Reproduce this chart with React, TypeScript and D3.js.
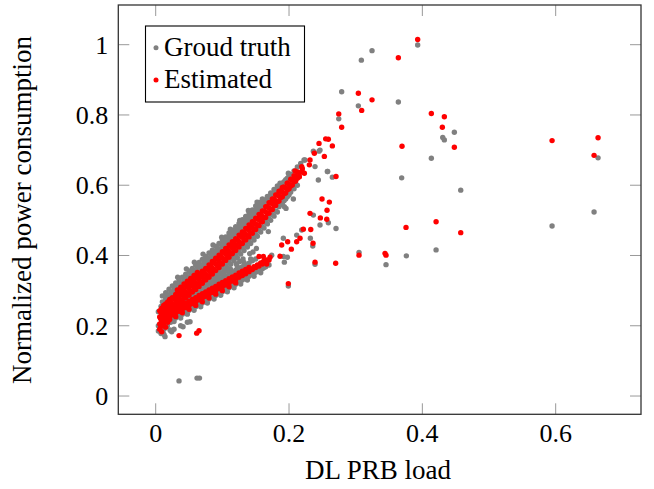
import React from 'react';
import * as d3 from 'd3';

type Pt = [number, number];

const xTicks = [0, 0.2, 0.4, 0.6];
const yTicks = [0, 0.2, 0.4, 0.6, 0.8, 1];
const seriesNames = ['Groud truth', 'Estimated'];
const seriesColors = ['#808080', '#ff0000'];

// ground truth, upper (dense) band
const groundTruthMain: Pt[] = [
	[0.004, 0.24], [0.004, 0.2], [0.004, 0.185],
	[0.008, 0.255], [0.008, 0.178], [0.008, 0.195],
	[0.0125, 0.262], [0.0125, 0.175], [0.0125, 0.19],
	[0.0175, 0.272], [0.0175, 0.285], [0.0175, 0.2],
	[0.0225, 0.28], [0.0225, 0.293], [0.0225, 0.21], [0.0225, 0.186],
	[0.0275, 0.29], [0.0275, 0.302], [0.0275, 0.222], [0.0275, 0.19],
	[0.0325, 0.3], [0.0325, 0.312], [0.0325, 0.233],
	[0.0375, 0.31], [0.0375, 0.322], [0.0375, 0.24], [0.0375, 0.2],
	[0.0425, 0.318], [0.0425, 0.331], [0.0425, 0.252],
	[0.0475, 0.325], [0.0475, 0.34], [0.0475, 0.26], [0.0475, 0.21],
	[0.0525, 0.334], [0.0525, 0.35], [0.0525, 0.268],
	[0.0575, 0.343], [0.0575, 0.357], [0.0575, 0.275],
	[0.0625, 0.35], [0.0625, 0.367], [0.0625, 0.285],
	[0.0675, 0.36], [0.0675, 0.374], [0.0675, 0.292],
	[0.0725, 0.37], [0.0725, 0.384], [0.0725, 0.3],
	[0.0775, 0.379], [0.0775, 0.392], [0.0775, 0.31],
	[0.0825, 0.388], [0.0825, 0.403], [0.0825, 0.318],
	[0.0875, 0.398], [0.0875, 0.412], [0.0875, 0.328],
	[0.0925, 0.408], [0.0925, 0.421], [0.0925, 0.338],
	[0.0975, 0.417], [0.0975, 0.432], [0.0975, 0.347],
	[0.1025, 0.428], [0.1025, 0.441], [0.1025, 0.356],
	[0.1075, 0.437], [0.1075, 0.452], [0.1075, 0.365],
	[0.1125, 0.447], [0.1125, 0.46], [0.1125, 0.375],
	[0.1175, 0.456], [0.1175, 0.47], [0.1175, 0.385],
	[0.1225, 0.466], [0.1225, 0.48], [0.1225, 0.394],
	[0.1275, 0.476], [0.1275, 0.49], [0.1275, 0.404],
	[0.1325, 0.486], [0.1325, 0.499], [0.1325, 0.414],
	[0.1375, 0.496], [0.1375, 0.509], [0.1375, 0.424],
	[0.1425, 0.505], [0.1425, 0.519], [0.1425, 0.434],
	[0.1475, 0.516], [0.1475, 0.528], [0.1475, 0.444],
	[0.1525, 0.527], [0.1525, 0.538], [0.1525, 0.455],
	[0.1575, 0.536], [0.1575, 0.548], [0.1575, 0.467],
	[0.1625, 0.547], [0.1625, 0.558], [0.1625, 0.478],
	[0.1675, 0.556], [0.1675, 0.568], [0.1675, 0.49],
	[0.1725, 0.566], [0.1725, 0.578], [0.1725, 0.5],
	[0.1775, 0.577], [0.1775, 0.588], [0.1775, 0.512],
	[0.1825, 0.588], [0.1825, 0.598], [0.1825, 0.524],
	[0.1875, 0.6], [0.1875, 0.545],
	[0.1925, 0.61], [0.1925, 0.556],
	[0.1975, 0.62], [0.1975, 0.567],
	[0.2025, 0.631], [0.2025, 0.58],
	[0.2075, 0.641], [0.2075, 0.59],
	[0.2125, 0.652], [0.2125, 0.6],
	[0.2175, 0.662], [0.2225, 0.672],
];

// ground truth, filling the upper band between the rows above
const groundTruthMainFill: Pt[] = [
	[0.01, 0.268], [0.01, 0.205], [0.01, 0.285],
	[0.015, 0.277], [0.015, 0.214], [0.015, 0.294],
	[0.02, 0.287], [0.02, 0.224], [0.02, 0.304],
	[0.025, 0.296], [0.025, 0.233], [0.025, 0.313],
	[0.03, 0.305], [0.03, 0.242], [0.03, 0.322],
	[0.035, 0.313], [0.035, 0.25], [0.035, 0.331],
	[0.04, 0.321], [0.04, 0.258], [0.04, 0.338],
	[0.045, 0.331], [0.045, 0.267], [0.045, 0.347],
	[0.05, 0.338], [0.05, 0.275], [0.05, 0.356],
	[0.055, 0.346], [0.055, 0.283], [0.055, 0.363],
	[0.06, 0.355], [0.06, 0.292], [0.06, 0.373],
	[0.065, 0.363], [0.065, 0.3], [0.065, 0.38],
	[0.07, 0.371], [0.07, 0.308], [0.07, 0.389],
	[0.075, 0.38], [0.075, 0.317], [0.075, 0.397],
	[0.08, 0.389], [0.08, 0.326], [0.08, 0.407],
	[0.085, 0.398], [0.085, 0.335], [0.085, 0.415],
	[0.09, 0.408], [0.09, 0.345], [0.09, 0.426],
	[0.095, 0.417], [0.095, 0.354], [0.095, 0.434],
	[0.1, 0.427], [0.1, 0.364], [0.1, 0.445],
	[0.105, 0.436], [0.105, 0.373], [0.105, 0.453],
	[0.11, 0.446], [0.11, 0.383], [0.11, 0.464],
	[0.115, 0.455], [0.115, 0.392], [0.115, 0.472],
	[0.12, 0.464], [0.12, 0.401], [0.12, 0.482],
	[0.125, 0.474], [0.125, 0.411], [0.125, 0.491],
	[0.13, 0.484], [0.13, 0.421], [0.13, 0.502],
	[0.135, 0.494], [0.135, 0.431], [0.135, 0.511],
	[0.14, 0.503], [0.14, 0.44], [0.14, 0.521],
	[0.145, 0.513], [0.145, 0.45], [0.145, 0.53],
	[0.15, 0.523], [0.15, 0.46], [0.15, 0.541],
	[0.155, 0.534], [0.155, 0.471], [0.155, 0.551],
	[0.16, 0.545], [0.16, 0.482], [0.16, 0.561],
	[0.165, 0.555], [0.165, 0.494], [0.17, 0.566], [0.17, 0.505],
	[0.175, 0.576], [0.175, 0.516], [0.18, 0.586], [0.18, 0.527],
	[0.185, 0.596], [0.185, 0.539], [0.19, 0.606], [0.19, 0.55],
	[0.195, 0.616], [0.195, 0.561], [0.2, 0.627], [0.2, 0.572],
	// loose points on the upper edge and between the bands
	[0.033, 0.338], [0.046, 0.362], [0.058, 0.381], [0.071, 0.404], [0.086, 0.43],
	[0.099, 0.452], [0.112, 0.475], [0.126, 0.5], [0.139, 0.528], [0.152, 0.552],
	[0.092, 0.338], [0.101, 0.35], [0.112, 0.362], [0.121, 0.376], [0.131, 0.39],
	[0.141, 0.405], [0.151, 0.42], [0.106, 0.357], [0.126, 0.383], [0.146, 0.41],
];

// ground truth, lower band
const groundTruthLower: Pt[] = [
	[0.025, 0.218], [0.025, 0.255], [0.03, 0.222], [0.03, 0.26],
	[0.035, 0.228], [0.035, 0.266], [0.04, 0.233], [0.04, 0.27],
	[0.045, 0.239], [0.045, 0.277], [0.05, 0.244], [0.05, 0.283],
	[0.055, 0.25], [0.055, 0.288], [0.06, 0.254], [0.06, 0.293],
	[0.065, 0.261], [0.065, 0.299], [0.07, 0.265], [0.07, 0.304],
	[0.075, 0.271], [0.075, 0.309], [0.08, 0.276], [0.08, 0.315],
	[0.085, 0.282], [0.085, 0.32], [0.09, 0.286], [0.09, 0.326],
	[0.095, 0.293], [0.095, 0.331], [0.1, 0.297], [0.1, 0.336],
	[0.105, 0.303], [0.105, 0.342], [0.11, 0.308], [0.11, 0.347],
	[0.115, 0.314], [0.115, 0.352], [0.12, 0.318], [0.12, 0.358],
	[0.125, 0.325], [0.125, 0.362], [0.13, 0.33], [0.13, 0.368],
	[0.135, 0.335], [0.135, 0.373], [0.14, 0.341], [0.14, 0.378],
	[0.145, 0.346], [0.145, 0.385], [0.15, 0.352], [0.15, 0.39],
	[0.155, 0.358], [0.16, 0.362], [0.165, 0.368], [0.17, 0.373],
	[0.0275, 0.212], [0.0375, 0.222], [0.0475, 0.233], [0.0575, 0.244],
	[0.0675, 0.254], [0.0775, 0.265], [0.0875, 0.276], [0.0975, 0.287],
	[0.1075, 0.297], [0.1175, 0.308], [0.1275, 0.319], [0.1375, 0.33],
	[0.1475, 0.341], [0.1575, 0.351],
	[0.0325, 0.273], [0.0425, 0.283], [0.0525, 0.294], [0.0625, 0.305],
	[0.0725, 0.316], [0.0825, 0.326], [0.0925, 0.337], [0.1025, 0.348],
	[0.1125, 0.358], [0.1225, 0.369], [0.1325, 0.38], [0.1425, 0.39],
	[0.011, 0.179], [0.024, 0.183], [0.041, 0.197], [0.0515, 0.2115],
	[0.014, 0.169], [0.0215, 0.188],
];

const groundTruthOutliers: Pt[] = [
	[0.3245, 0.983], [0.3085, 0.956], [0.393, 0.999], [0.279, 0.866], [0.304, 0.826],
	[0.2746, 0.789], [0.364, 0.837], [0.448, 0.751], [0.4306, 0.736], [0.433, 0.729],
	[0.4135, 0.677], [0.369, 0.621], [0.4576, 0.586], [0.244, 0.615], [0.258, 0.639],
	[0.265, 0.623], [0.2065, 0.561], [0.2365, 0.515], [0.2465, 0.487], [0.259, 0.493],
	[0.2705, 0.477], [0.232, 0.449], [0.2115, 0.458], [0.1915, 0.449], [0.2356, 0.427],
	[0.169, 0.468], [0.1915, 0.397], [0.1975, 0.395], [0.193, 0.381], [0.1625, 0.366],
	[0.174, 0.401], [0.239, 0.375], [0.305, 0.409], [0.3455, 0.374], [0.376, 0.399],
	[0.4206, 0.416], [0.169, 0.506], [0.6636, 0.678], [0.6576, 0.524], [0.5946, 0.484],
	[0.2465, 0.7], [0.2365, 0.697], [0.224, 0.672], [0.239, 0.653], [0.199, 0.634],
	[0.1865, 0.606], [0.2065, 0.591], [0.193, 0.539], [0.245, 0.697], [0.2575, 0.639],
	[0.1955, 0.534], [0.219, 0.4725], [0.199, 0.313],
	[0.035, 0.043], [0.062, 0.051], [0.0657, 0.051],
];

// estimated, upper (dense) band
const estimatedMain: Pt[] = [
	[0.006, 0.205], [0.006, 0.225], [0.006, 0.243], [0.006, 0.19],
	[0.009, 0.212], [0.009, 0.232], [0.009, 0.25], [0.009, 0.183],
	[0.012, 0.2], [0.012, 0.22], [0.012, 0.238], [0.012, 0.258],
	[0.015, 0.227], [0.015, 0.246], [0.015, 0.262], [0.015, 0.196],
	[0.018, 0.232], [0.018, 0.25], [0.018, 0.268], [0.018, 0.21],
	[0.021, 0.237], [0.021, 0.257], [0.021, 0.275], [0.021, 0.218],
	[0.025, 0.245], [0.025, 0.262], [0.025, 0.28],
	[0.03, 0.255], [0.03, 0.272], [0.03, 0.289],
	[0.035, 0.262], [0.035, 0.281], [0.035, 0.297],
	[0.04, 0.27], [0.04, 0.289], [0.04, 0.306],
	[0.045, 0.279], [0.045, 0.296], [0.045, 0.315],
	[0.05, 0.287], [0.05, 0.306], [0.05, 0.322],
	[0.055, 0.296], [0.055, 0.314], [0.055, 0.33],
	[0.06, 0.303], [0.06, 0.321], [0.06, 0.34],
	[0.065, 0.312], [0.065, 0.331], [0.065, 0.347],
	[0.07, 0.321], [0.07, 0.338], [0.07, 0.355],
	[0.075, 0.33], [0.075, 0.347], [0.075, 0.363],
	[0.08, 0.338], [0.08, 0.357], [0.08, 0.373],
	[0.085, 0.347], [0.085, 0.364], [0.085, 0.383],
	[0.09, 0.357], [0.09, 0.376], [0.09, 0.392],
	[0.095, 0.366], [0.095, 0.384], [0.095, 0.401],
	[0.1, 0.376], [0.1, 0.393], [0.1, 0.411],
	[0.105, 0.386], [0.105, 0.404], [0.105, 0.42],
	[0.11, 0.395], [0.11, 0.412], [0.11, 0.43],
	[0.115, 0.405], [0.115, 0.423], [0.115, 0.439],
	[0.12, 0.414], [0.12, 0.431], [0.12, 0.448],
	[0.125, 0.424], [0.125, 0.44], [0.125, 0.458],
	[0.13, 0.434], [0.13, 0.452], [0.13, 0.467],
	[0.135, 0.444], [0.135, 0.46], [0.135, 0.477],
	[0.14, 0.453], [0.14, 0.471], [0.14, 0.487],
	[0.145, 0.463], [0.145, 0.48], [0.145, 0.496],
	[0.15, 0.474], [0.15, 0.49], [0.15, 0.506],
	[0.155, 0.485], [0.155, 0.502], [0.155, 0.517],
	[0.16, 0.496], [0.16, 0.511], [0.16, 0.527],
	[0.165, 0.508], [0.165, 0.524], [0.165, 0.539],
	[0.17, 0.52], [0.17, 0.535], [0.17, 0.55],
	[0.175, 0.531], [0.175, 0.547], [0.175, 0.561],
	[0.18, 0.542], [0.18, 0.556], [0.18, 0.572],
	[0.185, 0.555], [0.185, 0.569], [0.185, 0.583],
	[0.19, 0.567], [0.19, 0.58], [0.19, 0.594],
	[0.195, 0.578], [0.195, 0.592], [0.2, 0.59], [0.2, 0.603],
	[0.205, 0.601], [0.205, 0.614], [0.21, 0.612], [0.21, 0.625],
	[0.215, 0.624], [0.215, 0.636], [0.22, 0.637], [0.22, 0.647],
];

// estimated, filling the upper band between the rows above
const estimatedMainFill: Pt[] = [
	[0.0075, 0.22], [0.0075, 0.239], [0.0075, 0.198],
	[0.0125, 0.23], [0.0125, 0.249], [0.0125, 0.21],
	[0.0175, 0.239], [0.0175, 0.258], [0.0175, 0.222],
	[0.0225, 0.248], [0.0225, 0.267], [0.0225, 0.229],
	[0.0275, 0.258], [0.0275, 0.277], [0.0275, 0.24],
	[0.0325, 0.266], [0.0325, 0.285], [0.0325, 0.302],
	[0.0375, 0.274], [0.0375, 0.293], [0.0375, 0.31],
	[0.0425, 0.283], [0.0425, 0.302], [0.0425, 0.319],
	[0.0475, 0.291], [0.0475, 0.31], [0.0475, 0.327],
	[0.0525, 0.299], [0.0525, 0.318], [0.0525, 0.335],
	[0.0575, 0.308], [0.0575, 0.327], [0.0575, 0.343],
	[0.0625, 0.316], [0.0625, 0.335], [0.0625, 0.352],
	[0.0675, 0.324], [0.0675, 0.343], [0.0725, 0.333], [0.0725, 0.352],
	[0.0775, 0.342], [0.0775, 0.361], [0.0825, 0.351], [0.0825, 0.37],
	[0.0875, 0.36], [0.0875, 0.379], [0.0925, 0.37], [0.0925, 0.389],
	[0.0975, 0.379], [0.0975, 0.398], [0.1025, 0.389], [0.1025, 0.408],
	[0.1075, 0.398], [0.1075, 0.417], [0.1125, 0.408], [0.1125, 0.427],
	[0.1175, 0.417], [0.1175, 0.436], [0.1225, 0.426], [0.1225, 0.445],
	[0.1275, 0.436], [0.1275, 0.455], [0.1325, 0.446], [0.1325, 0.465],
	[0.1375, 0.456], [0.1375, 0.475], [0.1425, 0.465], [0.1425, 0.484],
	[0.1475, 0.475], [0.1475, 0.494], [0.1525, 0.486], [0.1525, 0.505],
	[0.1575, 0.497], [0.1575, 0.516], [0.1625, 0.508], [0.1625, 0.527],
	[0.1675, 0.52], [0.1675, 0.539], [0.1725, 0.531], [0.1725, 0.55],
	[0.1775, 0.542], [0.1775, 0.561], [0.1825, 0.553], [0.1825, 0.572],
	[0.1875, 0.565], [0.1875, 0.584], [0.1925, 0.576], [0.1925, 0.595],
	[0.1975, 0.587], [0.1975, 0.606], [0.2025, 0.598], [0.2025, 0.617],
	[0.2075, 0.61], [0.2075, 0.627], [0.2125, 0.62], [0.2125, 0.638],
];

// estimated, lower band
const estimatedLower: Pt[] = [
	[0.02, 0.226], [0.02, 0.238], [0.025, 0.232], [0.025, 0.243],
	[0.03, 0.236], [0.03, 0.248], [0.035, 0.241], [0.035, 0.253],
	[0.04, 0.247], [0.04, 0.258], [0.045, 0.252], [0.045, 0.264],
	[0.05, 0.258], [0.05, 0.27], [0.055, 0.263], [0.055, 0.275],
	[0.06, 0.268], [0.06, 0.28], [0.065, 0.274], [0.065, 0.286],
	[0.07, 0.279], [0.07, 0.291], [0.075, 0.284], [0.075, 0.296],
	[0.08, 0.29], [0.08, 0.302], [0.085, 0.295], [0.085, 0.307],
	[0.09, 0.3], [0.09, 0.312], [0.095, 0.306], [0.095, 0.318],
	[0.1, 0.311], [0.1, 0.323], [0.105, 0.316], [0.105, 0.328],
	[0.11, 0.322], [0.11, 0.334], [0.115, 0.327], [0.115, 0.339],
	[0.12, 0.332], [0.12, 0.344], [0.125, 0.338], [0.125, 0.35],
	[0.13, 0.343], [0.13, 0.355], [0.135, 0.348], [0.135, 0.36],
	[0.14, 0.354], [0.14, 0.366], [0.145, 0.36], [0.15, 0.366],
	[0.155, 0.37], [0.16, 0.376], [0.165, 0.382], [0.17, 0.387],
	[0.155, 0.397], [0.1615, 0.397], [0.1665, 0.376],
	[0.0225, 0.234], [0.0275, 0.239], [0.0325, 0.245], [0.0375, 0.25],
	[0.0425, 0.255], [0.0475, 0.261], [0.0525, 0.266], [0.0575, 0.272],
	[0.0625, 0.277], [0.0675, 0.282], [0.0725, 0.288], [0.0775, 0.293],
	[0.0825, 0.298], [0.0875, 0.304], [0.0925, 0.309], [0.0975, 0.314],
	[0.1025, 0.32], [0.1075, 0.325], [0.1125, 0.33], [0.1175, 0.336],
	[0.1225, 0.341], [0.1275, 0.346], [0.1325, 0.352], [0.1375, 0.357],
	[0.1425, 0.362], [0.1475, 0.368], [0.1525, 0.373], [0.1575, 0.379],
	[0.1625, 0.384],
	[0.03, 0.226], [0.04, 0.237], [0.05, 0.247], [0.06, 0.258], [0.07, 0.268],
	[0.08, 0.279], [0.09, 0.29], [0.1, 0.3], [0.11, 0.311], [0.12, 0.322],
];

const estimatedOutliers: Pt[] = [
	[0.393, 1.015], [0.364, 0.963], [0.304, 0.862], [0.3245, 0.843], [0.309, 0.813],
	[0.2746, 0.803], [0.279, 0.765], [0.4135, 0.804], [0.433, 0.795], [0.43, 0.765],
	[0.448, 0.708], [0.3695, 0.711], [0.2705, 0.625], [0.2495, 0.561], [0.2605, 0.552],
	[0.257, 0.529], [0.2315, 0.52], [0.247, 0.507], [0.2566, 0.503], [0.2215, 0.475],
	[0.2326, 0.474], [0.236, 0.435], [0.2165, 0.449], [0.2115, 0.439], [0.198, 0.439],
	[0.189, 0.43], [0.2035, 0.418], [0.1865, 0.398], [0.1715, 0.395], [0.1665, 0.387],
	[0.1615, 0.382], [0.239, 0.381], [0.27, 0.378], [0.305, 0.401], [0.344, 0.406],
	[0.3455, 0.401], [0.3755, 0.48], [0.4206, 0.496], [0.4576, 0.465], [0.5946, 0.727],
	[0.6636, 0.735], [0.6576, 0.685], [0.245, 0.719], [0.255, 0.732], [0.259, 0.731],
	[0.265, 0.712], [0.253, 0.682], [0.2315, 0.672], [0.2305, 0.658], [0.238, 0.691],
	[0.219, 0.653], [0.209, 0.641], [0.223, 0.634], [0.2155, 0.624], [0.2065, 0.617],
	[0.1975, 0.606], [0.199, 0.32],
	[0.035, 0.172], [0.0615, 0.179], [0.065, 0.186],
];

const groundTruth = [...groundTruthMain, ...groundTruthMainFill, ...groundTruthLower, ...groundTruthOutliers];
const estimated = [...estimatedMain, ...estimatedMainFill, ...estimatedLower, ...estimatedOutliers];

const W = 654;
const H = 489;
const plot = { l: 118.3, r: 641, t: 5, b: 414.3 };
const font = '"Liberation Serif", "Times New Roman", serif';

const App = () => {
	const x = d3.scaleLinear().domain([-0.0561, 0.728]).range([plot.l, plot.r]);
	const y = d3.scaleLinear().domain([-0.052, 1.113]).range([plot.b, plot.t]);
	const tickLen = 11;
	const r = 2.7;

	return (
		<svg width={W} height={H} style={{ position: 'absolute', left: 0, top: 0, background: '#fff' }}>
			{/* ticks, inside on all four sides */}
			{xTicks.map((t) => (
				<g key={'xt' + t} stroke="#999" strokeWidth={1}>
					<line x1={x(t)} x2={x(t)} y1={plot.b} y2={plot.b - tickLen} />
					<line x1={x(t)} x2={x(t)} y1={plot.t} y2={plot.t + tickLen} />
				</g>
			))}
			{yTicks.map((t) => (
				<g key={'yt' + t} stroke="#999" strokeWidth={1}>
					<line x1={plot.l} x2={plot.l + tickLen} y1={y(t)} y2={y(t)} />
					<line x1={plot.r} x2={plot.r - tickLen} y1={y(t)} y2={y(t)} />
				</g>
			))}

			{groundTruth.map((d, i) => (
				<circle key={'g' + i} cx={x(d[0])} cy={y(d[1])} r={r} fill={seriesColors[0]} />
			))}
			{estimated.map((d, i) => (
				<circle key={'e' + i} cx={x(d[0])} cy={y(d[1])} r={r} fill={seriesColors[1]} />
			))}

			<rect x={plot.l} y={plot.t} width={plot.r - plot.l} height={plot.b - plot.t} fill="none" stroke="#333" strokeWidth={1.3} />

			{xTicks.map((t) => (
				<text key={'xl' + t} x={x(t)} y={442} textAnchor="middle" fontFamily={font} fontSize={26}>
					{t === 0 ? '0' : t.toFixed(1)}
				</text>
			))}
			{yTicks.map((t) => (
				<text key={'yl' + t} x={108.3} y={y(t) + 9} textAnchor="end" fontFamily={font} fontSize={26}>
					{t === 0 || t === 1 ? String(t) : t.toFixed(1)}
				</text>
			))}

			<text x={378} y={479} textAnchor="middle" fontFamily={font} fontSize={27}>
				DL PRB load
			</text>
			<text transform="translate(31, 210) rotate(-90)" textAnchor="middle" fontFamily={font} fontSize={27}>
				Normalized power consumption
			</text>

			{/* legend */}
			<g>
				<rect x={145.5} y={26} width={159} height={76} fill="#fff" stroke="#000" strokeWidth={1.1} />
				{seriesNames.map((name, i) => (
					<g key={name}>
						<circle cx={156} cy={47.7 + i * 32.3} r={2.5} fill={seriesColors[i]} />
						<text x={164} y={55.5 + i * 32.3} fontFamily={font} fontSize={27}>
							{name}
						</text>
					</g>
				))}
			</g>
		</svg>
	);
};

export default App;
